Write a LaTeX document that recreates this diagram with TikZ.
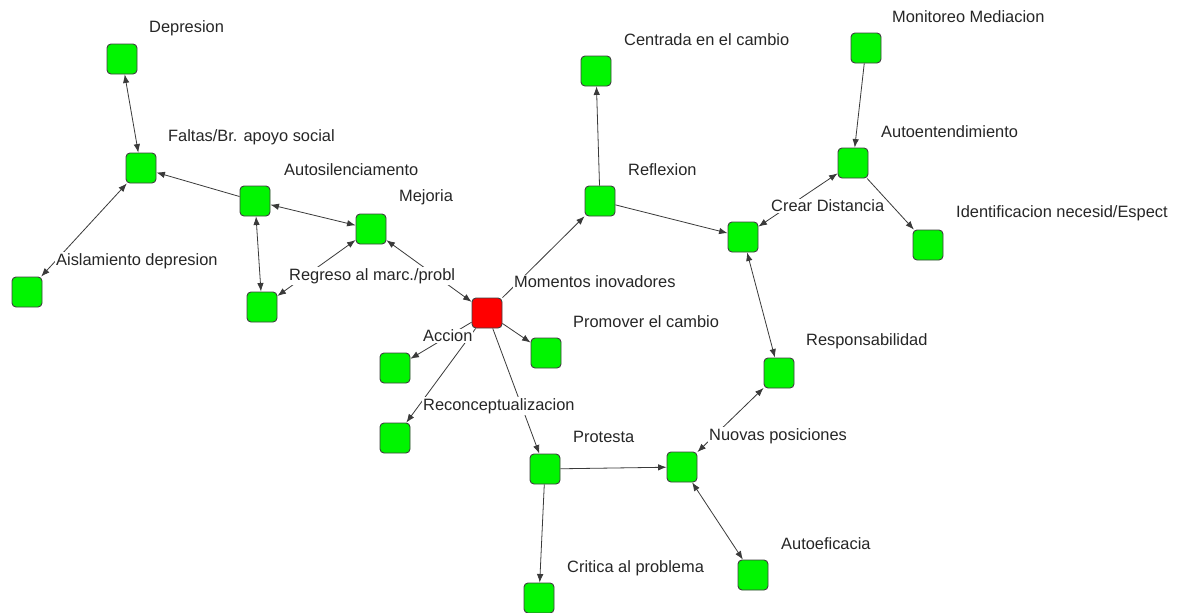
\documentclass[tikz,border=0pt]{standalone}
\usepackage{fontspec}
\setmainfont{Liberation Sans}
\usetikzlibrary{arrows.meta}
\definecolor{boxgreen}{HTML}{00F500}
\definecolor{boxred}{HTML}{FF0000}
\definecolor{edgegray}{HTML}{3A3A3A}
\tikzset{
  gbox/.style={draw=black!75, line width=0.9pt, fill=boxgreen, rounded corners=4pt,
    minimum width=30pt, minimum height=30pt, inner sep=0pt},
  rbox/.style={gbox, fill=boxred},
  lbl/.style={anchor=west, fill=white, inner sep=1pt, text=black!85,
    font=\fontsize{16.4}{18}\selectfont},
  edge/.style={draw=edgegray, line width=0.8pt},
  tip/.style={edge, -{Latex[length=8.5pt,width=6.5pt]}},
  both/.style={edge, {Latex[length=8.5pt,width=6.5pt]}-{Latex[length=8.5pt,width=6.5pt]}}
}
\begin{document}
\begin{tikzpicture}[x=1pt,y=-1pt]
\useasboundingbox[fill=white] (0,0) rectangle (1181,613);
% boxes
\node[gbox] (dep) at (122,59) {};
\node[gbox] (fal) at (141,168) {};
\node[gbox] (aut) at (255,201) {};
\node[gbox] (mej) at (371,229) {};
\node[gbox] (reg) at (262,307) {};
\node[gbox] (ais) at (27,292) {};
\node[rbox] (mom) at (487,313) {};
\node[gbox] (acc) at (395,368) {};
\node[gbox] (pro) at (546,353) {};
\node[gbox] (rec) at (395,438) {};
\node[gbox] (prot) at (545,469) {};
\node[gbox] (nuo) at (682,467) {};
\node[gbox] (res) at (779,373) {};
\node[gbox] (aef) at (753,575) {};
\node[gbox] (cri) at (539,598) {};
\node[gbox] (cen) at (596,71) {};
\node[gbox] (ref) at (600,201) {};
\node[gbox] (cre) at (743,237) {};
\node[gbox] (aue) at (853,163) {};
\node[gbox] (mon) at (866,48) {};
\node[gbox] (ide) at (928,245) {};
% connectors
\draw[both] (dep) -- (fal);
\draw[tip] (aut) -- (fal);
\draw[both] (fal) -- (ais);
\draw[both] (aut) -- (mej);
\draw[both] (aut) -- (reg);
\draw[both] (reg) -- (mej);
\draw[both] (mej) -- (mom);
\draw[tip] (mom) -- (acc);
\draw[tip] (mom) -- (rec);
\draw[tip] (mom) -- (pro);
\draw[tip] (mom) -- (prot);
\draw[tip] (mom) -- (ref);
\draw[tip] (ref) -- (cen);
\draw[tip] (ref) -- (cre);
\draw[both] (cre) -- (aue);
\draw[tip] (mon) -- (aue);
\draw[tip] (aue) -- (ide);
\draw[both] (cre) -- (res);
\draw[both] (res) -- (nuo);
\draw[tip] (prot) -- (nuo);
\draw[both] (nuo) -- (aef);
\draw[tip] (prot) -- (cri);
% labels
\node[lbl] (lDep) at (148,28) {Depresion};
\node[lbl] (lFal) at (167,137) {Faltas/Br. apoyo social};
\node[lbl] (lAut) at (283,170) {Autosilenciamento};
\node[lbl] (lMej) at (398,197) {Mejoria};
\node[lbl] (lAis) at (55,261) {Aislamiento depresion};
\node[lbl] (lReg) at (288,276) {Regreso al marc./probl};
\node[lbl] (lMom) at (513,282) {Momentos inovadores};
\node[lbl] (lAcc) at (422,336) {Accion};
\node[lbl] (lPro) at (572,322) {Promover el cambio};
\node[lbl] (lRec) at (422,406) {Reconceptualizacion};
\node[lbl] (lProt) at (572,437) {Protesta};
\node[lbl] (lNuo) at (708,436) {Nuovas posiciones};
\node[lbl] (lRes) at (805,341) {Responsabilidad};
\node[lbl] (lAef) at (780,544) {Autoeficacia};
\node[lbl] (lCri) at (566,568) {Critica al problema};
\node[lbl] (lCen) at (623,40) {Centrada en el cambio};
\node[lbl] (lRef) at (627,170) {Reflexion};
\node[lbl] (lCre) at (770,206) {Crear Distancia};
\node[lbl] (lAue) at (880,132) {Autoentendimiento};
\node[lbl] (lIde) at (955,213) {Identificacion necesid/Espect};
\node[lbl] (lMon) at (891,17) {Monitoreo Mediacion};
\end{tikzpicture}
\end{document}
